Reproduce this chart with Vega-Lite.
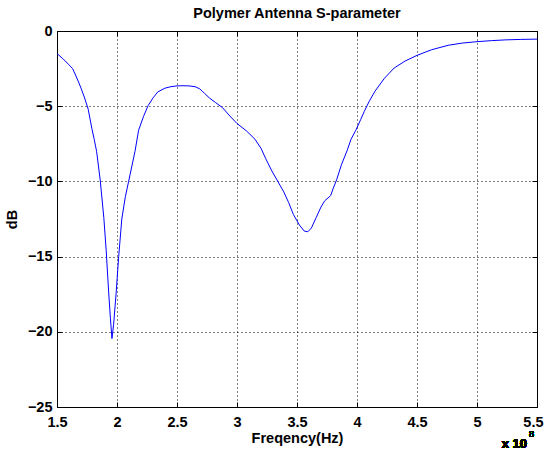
{
  "$schema": "https://vega.github.io/schema/vega-lite/v6.json",
  "width": 480,
  "height": 376,
  "autosize": {"type": "none"},
  "padding": {"left": 57, "top": 31, "right": 7, "bottom": 45},
  "background": "white",
  "title": {
    "text": "Polymer Antenna S-parameter",
    "font": "Liberation Sans",
    "fontSize": 14.5,
    "fontWeight": "bold",
    "color": "black",
    "anchor": "middle",
    "offset": 2
  },
  "config": {
    "view": {"stroke": "black", "strokeWidth": 1},
    "axis": {
      "labelFont": "Liberation Sans",
      "labelFontSize": 14.5,
      "labelFontWeight": "bold",
      "labelColor": "black",
      "titleFont": "Liberation Sans",
      "titleFontSize": 14.5,
      "titleFontWeight": "bold",
      "titleColor": "black",
      "domain": false,
      "ticks": true,
      "tickSize": -5,
      "tickColor": "black",
      "tickWidth": 1,
      "grid": true,
      "gridColor": "black",
      "gridOpacity": 1,
      "gridDash": [1, 3],
      "gridWidth": 1
    }
  },
  "resolve": {"axis": {"x": "independent", "y": "independent"}},
  "data": {
    "values": [
      {"freq": 150000000, "dB": -1.5},
      {"freq": 155000000, "dB": -1.85},
      {"freq": 160000000, "dB": -2.25},
      {"freq": 163000000, "dB": -2.5},
      {"freq": 165000000, "dB": -2.85},
      {"freq": 168000000, "dB": -3.4},
      {"freq": 170000000, "dB": -3.8},
      {"freq": 173000000, "dB": -4.45},
      {"freq": 176000000, "dB": -5.2},
      {"freq": 179000000, "dB": -6.47},
      {"freq": 181000000, "dB": -7.2},
      {"freq": 183000000, "dB": -8.0},
      {"freq": 186000000, "dB": -9.9},
      {"freq": 189000000, "dB": -12.4},
      {"freq": 191000000, "dB": -14.6},
      {"freq": 193000000, "dB": -17.3},
      {"freq": 194500000, "dB": -19.1},
      {"freq": 195800000, "dB": -20.45},
      {"freq": 197200000, "dB": -19.5},
      {"freq": 199400000, "dB": -17.3},
      {"freq": 201400000, "dB": -15.0},
      {"freq": 204000000, "dB": -12.5},
      {"freq": 207000000, "dB": -11.0},
      {"freq": 209700000, "dB": -10.0},
      {"freq": 215000000, "dB": -8.0},
      {"freq": 218000000, "dB": -6.6},
      {"freq": 222000000, "dB": -5.7},
      {"freq": 226000000, "dB": -4.95},
      {"freq": 230000000, "dB": -4.45},
      {"freq": 234000000, "dB": -4.05},
      {"freq": 240000000, "dB": -3.8},
      {"freq": 245000000, "dB": -3.7},
      {"freq": 250000000, "dB": -3.65},
      {"freq": 255000000, "dB": -3.64},
      {"freq": 260000000, "dB": -3.65},
      {"freq": 265000000, "dB": -3.7},
      {"freq": 269000000, "dB": -3.85},
      {"freq": 273000000, "dB": -4.15},
      {"freq": 277000000, "dB": -4.45},
      {"freq": 282000000, "dB": -4.75},
      {"freq": 288000000, "dB": -5.1},
      {"freq": 294000000, "dB": -5.65},
      {"freq": 300000000, "dB": -6.15},
      {"freq": 308000000, "dB": -6.65},
      {"freq": 315000000, "dB": -7.2},
      {"freq": 320000000, "dB": -7.8},
      {"freq": 324000000, "dB": -8.5},
      {"freq": 329000000, "dB": -9.3},
      {"freq": 334000000, "dB": -10.0},
      {"freq": 339000000, "dB": -10.7},
      {"freq": 343000000, "dB": -11.4},
      {"freq": 347000000, "dB": -12.2},
      {"freq": 352000000, "dB": -12.9},
      {"freq": 356000000, "dB": -13.3},
      {"freq": 359000000, "dB": -13.35},
      {"freq": 362000000, "dB": -13.1},
      {"freq": 366000000, "dB": -12.4},
      {"freq": 370000000, "dB": -11.7},
      {"freq": 373000000, "dB": -11.3},
      {"freq": 378000000, "dB": -10.95},
      {"freq": 380000000, "dB": -10.5},
      {"freq": 383000000, "dB": -9.9},
      {"freq": 387000000, "dB": -8.9},
      {"freq": 392000000, "dB": -7.9},
      {"freq": 395000000, "dB": -7.2},
      {"freq": 399000000, "dB": -6.6},
      {"freq": 403000000, "dB": -5.9},
      {"freq": 406000000, "dB": -5.36},
      {"freq": 410000000, "dB": -4.7},
      {"freq": 415000000, "dB": -4.0},
      {"freq": 423000000, "dB": -3.13},
      {"freq": 431000000, "dB": -2.46},
      {"freq": 440000000, "dB": -2.0},
      {"freq": 450000000, "dB": -1.62},
      {"freq": 462000000, "dB": -1.25},
      {"freq": 476000000, "dB": -0.95},
      {"freq": 488000000, "dB": -0.8},
      {"freq": 500000000, "dB": -0.71},
      {"freq": 512000000, "dB": -0.64},
      {"freq": 524000000, "dB": -0.59},
      {"freq": 536000000, "dB": -0.56},
      {"freq": 550000000, "dB": -0.54}
    ]
  },
  "layer": [
    {
      "mark": {"type": "line", "color": "#0000ff", "strokeWidth": 1, "clip": true},
      "encoding": {
        "x": {
          "field": "freq",
          "type": "quantitative",
          "scale": {"domain": [150000000, 550000000], "nice": false, "zero": false},
          "axis": {
            "title": "Freqency(Hz)",
            "values": [150000000, 200000000, 250000000, 300000000, 350000000, 400000000, 450000000, 500000000, 550000000],
            "labelExpr": "format(datum.value / 100000000, '~g')",
            "labelAlign": {"expr": "datum.value >= 550000000 ? 'right' : 'center'"},
            "labelOffset": {"expr": "datum.value >= 550000000 ? 6 : 0"},
            "labelPadding": 13,
            "titlePadding": 3,
            "labelFlush": false,
            "labelOverlap": false
          }
        },
        "y": {
          "field": "dB",
          "type": "quantitative",
          "scale": {"domain": [-25, 0], "nice": false, "zero": false},
          "axis": {
            "title": "dB",
            "values": [-25, -20, -15, -10, -5, 0],
            "labelPadding": 10,
            "titlePadding": 8,
            "labelFlush": false,
            "labelOverlap": false
          }
        }
      }
    },
    {
      "mark": {"type": "text", "text": "x 10", "font": "Liberation Sans", "fontSize": 13, "fontWeight": "bold", "align": "right", "baseline": "alphabetic", "dx": -10, "dy": 41, "color": "black"},
      "encoding": {
        "x": {
          "datum": 550000000, "type": "quantitative",
          "axis": {"orient": "top", "values": [150000000, 200000000, 250000000, 300000000, 350000000, 400000000, 450000000, 500000000, 550000000], "labels": false, "grid": false, "title": null}
        },
        "y": {
          "datum": -25, "type": "quantitative",
          "axis": {"orient": "right", "values": [-25, -20, -15, -10, -5, 0], "labels": false, "grid": false, "title": null}
        }
      }
    },
    {
      "mark": {"type": "text", "text": "8", "font": "Liberation Sans", "fontSize": 9, "align": "left", "baseline": "alphabetic", "dx": -8, "dy": 30, "color": "black"},
      "encoding": {
        "x": {"datum": 550000000, "type": "quantitative", "axis": null},
        "y": {"datum": -25, "type": "quantitative", "axis": null}
      }
    }
  ]
}
